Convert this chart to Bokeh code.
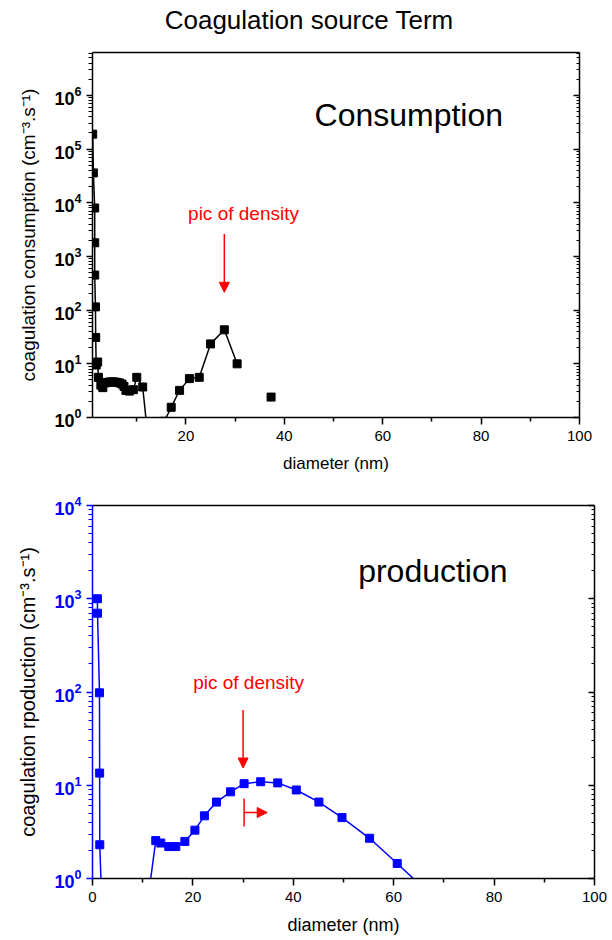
from bokeh.plotting import figure
from bokeh.layouts import column
from bokeh.models import (Range1d, FixedTicker, LogAxis, LinearAxis, Label,
                          Arrow, NormalHead, TeeHead, Div)
from bokeh.embed import file_html
from bokeh.resources import INLINE

NAN = float("nan")
FONT = "Liberation Sans"

title_text = "Coagulation source Term"

# --- consumption (top panel) ---
cons_diam = [1.04, 1.18, 1.45, 1.45, 1.45, 1.6, 1.65, 1.75, 2.05, 2.2, 2.7, 3.1,
             3.5, 4.0, 4.5, 5.0, 5.5, 6.0, 6.5, 7.0, 7.4, 7.8, 8.5, 9.3, 10.0, 11.2,
             12.3, 13.5, 14.8, 15.6, 17.0, 18.7, 20.7, 22.7, 25.0, 27.8, 30.4,
             NAN, 37.3]
cons_rate = [1.9e5, 3.6e4, 8.0e3, 1.8e3, 450, 115, 31, 9.5, 10.8, 5.6, 4.0, 3.6,
             4.4, 4.5, 4.6, 4.6, 4.6, 4.5, 4.4, 4.2, 3.8, 3.2, 3.1, 3.3, 5.6, 3.7,
             0.4, 0.3, 0.4, 0.85, 1.55, 3.2, 5.3, 5.6, 23.5, 43, 10,
             NAN, 2.4]

# --- production (bottom panel) ---
prod_diam = [0.98, 1.0, 1.39, 1.42, 1.45, 2.0, 3.5, 5.0, 7.0, 9.0, 10.5,
             12.6, 13.6, 15.2, 16.6, 18.4, 20.4, 22.3, 24.7, 27.5, 30.2, 33.5,
             36.9, 40.6, 45.1, 49.7, 55.2, 60.7, 66.5, 72.5]
prod_rate = [1000, 700, 98, 13.5, 2.3, 0.3, 0.05, 0.05, 0.05, 0.1, 0.36,
             2.55, 2.4, 2.2, 2.2, 2.5, 3.3, 4.7, 6.6, 8.5, 10.4, 10.9,
             10.6, 8.9, 6.6, 4.5, 2.7, 1.45, 0.74, 0.3]

# ticks
x_major_top = [20, 40, 60, 80, 100]
x_major_bot = [0, 20, 40, 60, 80, 100]
x_minor = [10, 30, 50, 70, 90]
y_major_top = [1, 10, 100, 1e3, 1e4, 1e5, 1e6]
y_major_bot = [1, 10, 100, 1e3, 1e4]
y_minor_top = [m * 10 ** k for k in range(0, 7) for m in range(2, 10)]
y_minor_bot = [m * 10 ** k for k in range(0, 4) for m in range(2, 10)]


def style_common(p, x_major, y_major, y_minor, ycolor, ylabel, ylabel_size,
                 xlabel_size, xlabel_standoff):
    p.grid.visible = False
    p.outline_line_color = None
    p.background_fill_color = "white"
    p.border_fill_color = "white"

    xa = p.xaxis[0]
    xa.ticker = FixedTicker(ticks=x_major, minor_ticks=x_minor)
    xa.axis_label = "diameter (nm)"
    xa.axis_label_text_font = FONT
    xa.axis_label_text_font_size = xlabel_size
    xa.axis_label_text_font_style = "normal"
    xa.axis_label_text_color = "black"
    xa.axis_label_standoff = xlabel_standoff
    xa.major_label_text_font = FONT
    xa.major_label_text_font_size = "15px"
    xa.major_label_text_color = "black"
    xa.major_label_standoff = 6
    xa.axis_line_color = "black"
    xa.axis_line_width = 1.5
    xa.major_tick_line_color = "black"
    xa.major_tick_line_width = 1.5
    xa.minor_tick_line_color = "black"
    xa.minor_tick_line_width = 1.5
    xa.major_tick_in = 0
    xa.major_tick_out = 7
    xa.minor_tick_in = 0
    xa.minor_tick_out = 4

    ya = p.yaxis[0]
    ya.ticker = FixedTicker(ticks=y_major, minor_ticks=y_minor)
    ya.axis_label = ylabel
    ya.axis_label_text_font = FONT
    ya.axis_label_text_font_size = ylabel_size
    ya.axis_label_text_font_style = "normal"
    ya.axis_label_text_color = "black"
    ya.axis_label_standoff = 12
    ya.major_label_text_font = FONT
    ya.major_label_text_font_size = "18px"
    ya.major_label_text_font_style = "bold"
    ya.major_label_text_color = ycolor
    ya.major_label_standoff = 5
    ya.axis_line_color = ycolor
    ya.axis_line_width = 1.5
    ya.major_tick_line_color = ycolor
    ya.major_tick_line_width = 1.5
    ya.minor_tick_line_color = ycolor
    ya.minor_tick_line_width = 1.2
    ya.major_tick_in = 0
    ya.major_tick_out = 6
    ya.minor_tick_in = 0
    ya.minor_tick_out = 4

    right = LogAxis(ticker=FixedTicker(ticks=y_major, minor_ticks=y_minor),
                    major_label_text_font_size="1px",
                    major_label_text_color=None, major_label_standoff=0,
                    axis_line_color="black", axis_line_width=1.5,
                    major_tick_line_color="black", major_tick_line_width=1.5,
                    minor_tick_line_color="black", minor_tick_line_width=1.2,
                    major_tick_in=6, major_tick_out=0,
                    minor_tick_in=3, minor_tick_out=0)
    p.add_layout(right, "right")

    top = LinearAxis(ticker=FixedTicker(ticks=x_major, minor_ticks=[]),
                     major_label_text_font_size="1px",
                     major_label_text_color=None, major_label_standoff=0,
                     axis_line_color="black", axis_line_width=1.5,
                     major_tick_line_color=None, minor_tick_line_color=None,
                     major_tick_in=0, major_tick_out=0,
                     minor_tick_in=0, minor_tick_out=0)
    p.add_layout(top, "above")


# ---------------- title ----------------
title = Div(text=title_text, width=612, height=40, margin=(0, 0, 0, 0),
            styles={"font-family": FONT, "font-size": "26px",
                    "line-height": "40px", "text-align": "center",
                    "color": "black", "width": "618px"})

# ---------------- top figure ----------------
p1 = figure(frame_width=487, frame_height=365, y_axis_type="log",
            x_range=Range1d(1, 100), y_range=Range1d(1, 6.3e6),
            output_backend="svg", toolbar_location=None,
            min_border_left=90, min_border_right=35,
            min_border_top=12, min_border_bottom=61)
style_common(p1, x_major_top, y_major_top, y_minor_top, "black",
             "coagulation consumption (cm\u207b\u00b3.s\u207b\u00b9)", "19px",
             "17px", 10)

p1.line(cons_diam, cons_rate, line_color="black", line_width=1.5)
p1.scatter(cons_diam, cons_rate, marker="square", size=8,
           fill_color="black", line_color="black")

p1.add_layout(Label(x=65.3, y=4.4e5, text="Consumption", text_font=FONT,
                    text_font_size="32px", text_align="center",
                    text_baseline="middle", text_color="black"))
p1.add_layout(Label(x=31.7, y=6370, text="pic of density", text_font=FONT,
                    text_font_size="19px", text_align="center",
                    text_baseline="middle", text_color="red"))
p1.add_layout(Arrow(end=NormalHead(size=10, fill_color="red", line_color="red"),
                    x_start=27.8, y_start=2630, x_end=27.8, y_end=215,
                    line_color="red", line_width=1.5))

# ---------------- bottom figure ----------------
p2 = figure(frame_width=502, frame_height=373, y_axis_type="log",
            x_range=Range1d(0, 100), y_range=Range1d(1, 1e4),
            output_backend="svg", toolbar_location=None,
            min_border_left=92, min_border_right=18,
            min_border_top=27, min_border_bottom=62)
style_common(p2, x_major_bot, y_major_bot, y_minor_bot, "#0000ff",
             "coagulation rpoduction (cm\u207b\u00b3.s\u207b\u00b9)", "20px",
             "18px", 10)

p2.line(prod_diam, prod_rate, line_color="#0000ff", line_width=1.5)
p2.scatter(prod_diam, prod_rate, marker="square", size=8,
           fill_color="#0000ff", line_color="#0000ff")

p2.add_layout(Label(x=67.8, y=2000, text="production", text_font=FONT,
                    text_font_size="32px", text_align="center",
                    text_baseline="middle", text_color="black"))
p2.add_layout(Label(x=31.1, y=126, text="pic of density", text_font=FONT,
                    text_font_size="19px", text_align="center",
                    text_baseline="middle", text_color="red"))
p2.add_layout(Arrow(end=NormalHead(size=10, fill_color="red", line_color="red"),
                    x_start=30.0, y_start=64, x_end=30.0, y_end=15.3,
                    line_color="red", line_width=1.5))
p2.add_layout(Arrow(start=TeeHead(size=28, line_color="red", line_width=1.5),
                    end=NormalHead(size=10, fill_color="red", line_color="red"),
                    x_start=30.2, y_start=5.1, x_end=34.8, y_end=5.1,
                    line_color="red", line_width=1.5))

layout = column(title, p1, p2, spacing=0)
open("out.html", "w").write(file_html(layout, INLINE))
